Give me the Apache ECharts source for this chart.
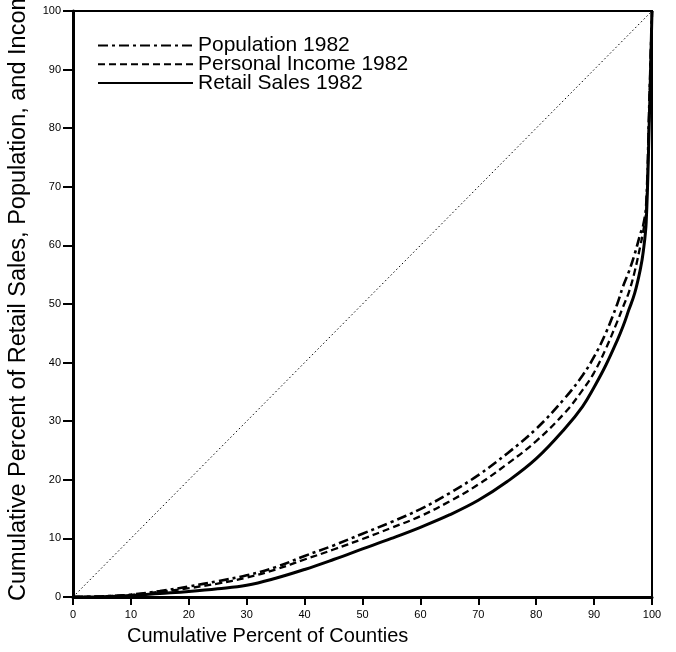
<!DOCTYPE html>
<html>
<head>
<meta charset="utf-8">
<script src="https://cdn.jsdelivr.net/npm/echarts@6/dist/echarts.min.js"></script>
<style>html,body{margin:0;padding:0;background:#fff;}#c{width:676px;height:652px;}</style>
</head>
<body>
<div id="c"></div>
<script>
const countyPct = [0, 5, 10, 15, 20, 25, 30, 35, 40, 45, 50, 55, 60, 65, 70, 75, 80, 85, 88, 90, 92, 94, 95, 96, 97, 98, 98.5, 99, 99.5, 100];
const population = [0, 0.1, 0.4, 1.0, 1.8, 2.7, 3.7, 5.1, 7.0, 8.8, 10.8, 12.8, 15.0, 17.7, 20.8, 24.5, 28.7, 34.0, 37.8, 41.0, 45.0, 50.0, 53.0, 55.5, 58.5, 62, 63.5, 67, 83, 100];
const income = [0, 0.1, 0.35, 0.9, 1.5, 2.3, 3.3, 4.7, 6.4, 8.1, 9.9, 11.8, 13.8, 16.3, 19.2, 22.7, 26.6, 31.5, 35.3, 38.3, 42.3, 47, 49.5, 52, 55.5, 60, 62.5, 66, 82, 100];
const retail = [0, 0.05, 0.25, 0.6, 0.95, 1.4, 2.0, 3.2, 4.7, 6.4, 8.2, 10.0, 11.9, 14.0, 16.5, 19.7, 23.6, 28.8, 32.5, 35.8, 39.5, 43.8, 46.2, 49, 51.8, 56, 59, 64, 80, 100];
const equality = [[0, 0], [100, 100]];
const seriesNames = ['Population 1982', 'Personal Income 1982', 'Retail Sales 1982'];
const xTitle = 'Cumulative Percent of Counties';
const yTitle = 'Cumulative Percent of Retail Sales, Population, and Income 1982';

const pair = arr => countyPct.map((x, i) => [x, arr[i]]);
const FONT = '"Liberation Sans", Arial, Helvetica, sans-serif';

const chart = echarts.init(document.getElementById('c'), null, {renderer: 'canvas'});
chart.setOption({
  animation: false,
  backgroundColor: '#fff',
  grid: {left: 73, right: 24, top: 11, bottom: 55, show: true, borderColor: '#000', borderWidth: 2, backgroundColor: 'transparent'},
  xAxis: {
    type: 'value', min: 0, max: 100, interval: 10,
    axisLine: {show: true, lineStyle: {color: '#000', width: 3}},
    axisTick: {show: true, inside: false, length: 8, lineStyle: {color: '#000', width: 2}},
    axisLabel: {color: '#000', fontSize: 11, fontFamily: FONT, margin: 12},
    splitLine: {show: false}
  },
  yAxis: {
    type: 'value', min: 0, max: 100, interval: 10,
    axisLine: {show: true, lineStyle: {color: '#000', width: 3}},
    axisTick: {show: true, inside: false, length: 10, lineStyle: {color: '#000', width: 2}},
    axisLabel: {color: '#000', fontSize: 11, fontFamily: FONT, margin: 12},
    splitLine: {show: false}
  },
  legend: {
    data: seriesNames,
    orient: 'vertical',
    left: 92, top: 30,
    itemWidth: 95, itemHeight: 16, itemGap: -2.2,
    itemStyle: {color: 'transparent', borderWidth: 0, opacity: 0},
    textStyle: {color: '#000', fontSize: 21, fontFamily: FONT, lineHeight: 17},
    selectedMode: false
  },
  graphic: [
    {type: 'text', left: 127, top: 626, style: {text: xTitle, fontSize: 20, fontFamily: FONT, fill: '#000'}},
    {type: 'text', x: 19, y: 601, rotation: Math.PI / 2,
     style: {text: yTitle, fontSize: 23.5, fontFamily: FONT, fill: '#000', textAlign: 'left', textVerticalAlign: 'middle'}}
  ],
  series: [
    {type: 'line', name: 'equality', data: equality, symbol: 'none', silent: true,
     lineStyle: {color: '#000', width: 1, type: [1.5, 2.5]}},
    {type: 'line', name: seriesNames[0], data: pair(population), symbol: 'none', smooth: 0.4,
     itemStyle: {color: '#000'}, lineStyle: {color: '#000', width: 2.6, type: [10, 4, 3, 4]}},
    {type: 'line', name: seriesNames[1], data: pair(income), symbol: 'none', smooth: 0.4,
     itemStyle: {color: '#000'}, lineStyle: {color: '#000', width: 2.3, type: [7, 4]}},
    {type: 'line', name: seriesNames[2], data: pair(retail), symbol: 'none', smooth: 0.4,
     itemStyle: {color: '#000'}, lineStyle: {color: '#000', width: 3, type: 'solid'}}
  ]
});
</script>
</body>
</html>
